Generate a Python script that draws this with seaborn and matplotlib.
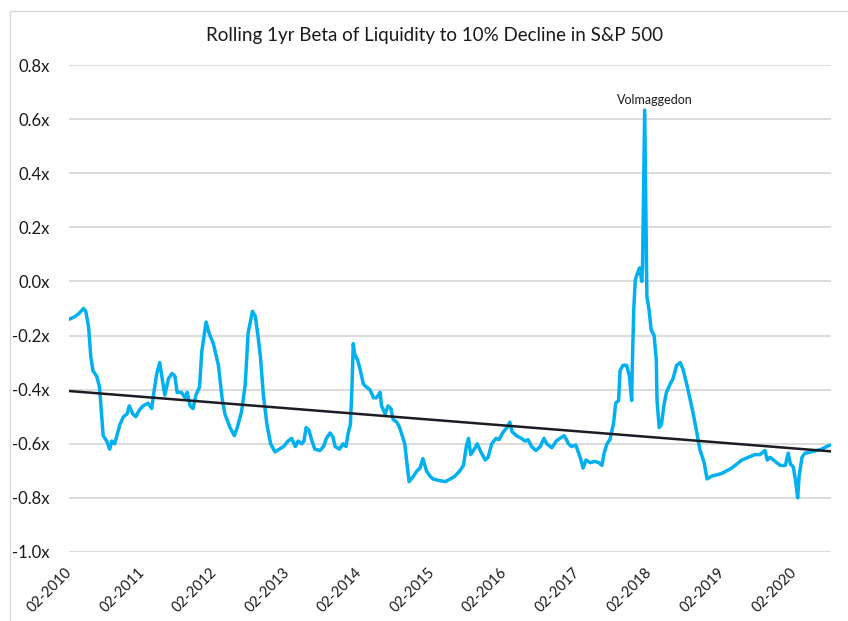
import matplotlib
matplotlib.use("Agg")
import matplotlib.pyplot as plt
from matplotlib.patches import Rectangle
import pandas as pd
import seaborn as sns

# ---------------- data ----------------
years = [
    2010.07, 2010.15, 2010.20, 2010.27, 2010.30, 2010.34, 2010.37, 2010.40, 2010.45, 2010.49,
    2010.51, 2010.54, 2010.59, 2010.63, 2010.66, 2010.70, 2010.74, 2010.77, 2010.82, 2010.87,
    2010.90, 2010.95, 2010.99, 2011.04, 2011.09, 2011.16, 2011.21, 2011.24, 2011.28, 2011.32,
    2011.36, 2011.39, 2011.44, 2011.49, 2011.53, 2011.56, 2011.62, 2011.67, 2011.70, 2011.74,
    2011.78, 2011.82, 2011.87, 2011.90, 2011.96, 2012.00, 2012.06, 2012.13, 2012.18, 2012.22,
    2012.29, 2012.35, 2012.39, 2012.45, 2012.50, 2012.54, 2012.60, 2012.64, 2012.68, 2012.71,
    2012.75, 2012.80, 2012.85, 2012.91, 2012.97, 2013.03, 2013.09, 2013.14, 2013.19, 2013.23,
    2013.28, 2013.31, 2013.34, 2013.38, 2013.42, 2013.46, 2013.53, 2013.58, 2013.62, 2013.67,
    2013.71, 2013.74, 2013.80, 2013.85, 2013.89, 2013.92, 2013.95, 2013.97, 2013.99, 2014.01,
    2014.05, 2014.08, 2014.13, 2014.17, 2014.22, 2014.27, 2014.31, 2014.36, 2014.38, 2014.43,
    2014.47, 2014.51, 2014.54, 2014.59, 2014.63, 2014.70, 2014.76, 2014.82, 2014.87, 2014.91,
    2014.95, 2015.00, 2015.05, 2015.09, 2015.16, 2015.26, 2015.33, 2015.39, 2015.46, 2015.51,
    2015.55, 2015.58, 2015.61, 2015.66, 2015.70, 2015.75, 2015.81, 2015.85, 2015.90, 2015.96,
    2016.00, 2016.05, 2016.11, 2016.15, 2016.18, 2016.24, 2016.31, 2016.36, 2016.40, 2016.45,
    2016.51, 2016.57, 2016.62, 2016.66, 2016.73, 2016.79, 2016.84, 2016.90, 2016.96, 2017.00,
    2017.06, 2017.12, 2017.16, 2017.20, 2017.26, 2017.32, 2017.38, 2017.42, 2017.45, 2017.49,
    2017.53, 2017.58, 2017.61, 2017.65, 2017.67, 2017.71, 2017.76, 2017.80, 2017.83, 2017.84,
    2017.86, 2017.88, 2017.91, 2017.94, 2017.97, 2017.98, 2018.01, 2018.04, 2018.07, 2018.10,
    2018.14, 2018.17, 2018.18, 2018.21, 2018.24, 2018.28, 2018.31, 2018.36, 2018.40, 2018.45,
    2018.50, 2018.54, 2018.59, 2018.64, 2018.68, 2018.73, 2018.77, 2018.83, 2018.87, 2018.93,
    2019.00, 2019.07, 2019.14, 2019.21, 2019.28, 2019.35, 2019.44, 2019.53, 2019.60, 2019.67,
    2019.70, 2019.74, 2019.81, 2019.88, 2019.95, 2019.99, 2020.02, 2020.06, 2020.09, 2020.12,
    2020.14, 2020.18, 2020.22, 2020.31, 2020.38, 2020.45, 2020.52, 2020.57,
]
beta = [
    -0.14, -0.13, -0.12, -0.10, -0.11, -0.17, -0.28, -0.33, -0.35, -0.39,
    -0.46, -0.57, -0.59, -0.62, -0.59, -0.60, -0.56, -0.53, -0.50, -0.49,
    -0.46, -0.49, -0.50, -0.475, -0.46, -0.45, -0.47, -0.41, -0.34, -0.30,
    -0.37, -0.42, -0.36, -0.34, -0.35, -0.41, -0.41, -0.43, -0.41, -0.46,
    -0.47, -0.42, -0.39, -0.26, -0.15, -0.19, -0.23, -0.31, -0.43, -0.49,
    -0.54, -0.57, -0.54, -0.48, -0.38, -0.19, -0.11, -0.13, -0.21, -0.28,
    -0.42, -0.53, -0.60, -0.63, -0.62, -0.61, -0.59, -0.58, -0.61, -0.59,
    -0.60, -0.59, -0.54, -0.55, -0.59, -0.62, -0.625, -0.61, -0.58, -0.56,
    -0.575, -0.61, -0.62, -0.60, -0.61, -0.56, -0.53, -0.41, -0.23, -0.27,
    -0.29, -0.32, -0.38, -0.39, -0.40, -0.43, -0.43, -0.41, -0.46, -0.49,
    -0.46, -0.47, -0.51, -0.52, -0.54, -0.60, -0.74, -0.72, -0.70, -0.69,
    -0.655, -0.70, -0.72, -0.73, -0.735, -0.74, -0.73, -0.72, -0.70, -0.68,
    -0.61, -0.58, -0.64, -0.62, -0.60, -0.63, -0.66, -0.65, -0.60, -0.58,
    -0.585, -0.56, -0.54, -0.52, -0.555, -0.57, -0.58, -0.59, -0.585, -0.61,
    -0.625, -0.61, -0.58, -0.60, -0.615, -0.59, -0.58, -0.57, -0.60, -0.61,
    -0.605, -0.65, -0.69, -0.66, -0.67, -0.665, -0.67, -0.68, -0.635, -0.60,
    -0.585, -0.525, -0.45, -0.44, -0.33, -0.31, -0.31, -0.35, -0.44, -0.30,
    -0.10, 0.005, 0.03, 0.05, 0.0, 0.05, 0.633, -0.055, -0.105, -0.18,
    -0.20, -0.29, -0.44, -0.54, -0.53, -0.45, -0.41, -0.38, -0.36, -0.31,
    -0.30, -0.325, -0.38, -0.44, -0.49, -0.56, -0.62, -0.67, -0.73, -0.72,
    -0.715, -0.71, -0.70, -0.69, -0.675, -0.66, -0.65, -0.64, -0.64, -0.625,
    -0.66, -0.65, -0.665, -0.68, -0.68, -0.635, -0.675, -0.685, -0.735, -0.80,
    -0.72, -0.65, -0.635, -0.63, -0.625, -0.62, -0.61, -0.605,
]
trend_years = [2010.069, 2020.58]
trend_beta = [-0.405, -0.628]

tick_years = [2010.083, 2011.083, 2012.083, 2013.083, 2014.083, 2015.083,
              2016.083, 2017.083, 2018.083, 2019.083, 2020.083]
tick_labels = ["02-2010", "02-2011", "02-2012", "02-2013", "02-2014", "02-2015",
               "02-2016", "02-2017", "02-2018", "02-2019", "02-2020"]
y_ticks = [-1.0, -0.8, -0.6, -0.4, -0.2, 0.0, 0.2, 0.4, 0.6, 0.8]
y_tick_labels = ["-1.0x", "-0.8x", "-0.6x", "-0.4x", "-0.2x", "0.0x", "0.2x", "0.4x", "0.6x", "0.8x"]
title = "Rolling 1yr Beta of Liquidity to 10% Decline in S&P 500"
note_text = "Volmaggedon"
note_pos = (2018.15, 0.669)

# ---------------- plot ----------------
sns.set_theme(style="white")
plt.rcParams["font.family"] = ["Lato", "DejaVu Sans"]

W, H = 848, 621
fig = plt.figure(figsize=(W / 100, H / 100), dpi=100)
ax = fig.add_axes([69 / W, 1 - 552 / H, (831 - 69) / W, (552 - 65) / H])

df = pd.DataFrame({"year": years, "beta": beta})
sns.lineplot(data=df, x="year", y="beta", color="#00B0F0", lw=2.5, ax=ax, zorder=3)
sns.lineplot(x=trend_years, y=trend_beta, color="#1c1c24", lw=1.8, ax=ax, zorder=4)

ax.set_xlim(2010.069, 2020.58)
ax.set_ylim(-1.0, 0.8)
ax.set_yticks(y_ticks)
ax.set_yticklabels(y_tick_labels, fontsize=12, color="#1a1a1a")
ax.set_xticks(tick_years)
ax.set_xticklabels(tick_labels, fontsize=10.5, color="#1a1a1a", rotation=45,
                   ha="right", va="center", rotation_mode="anchor")
ax.tick_params(axis="y", length=0, pad=14)
ax.tick_params(axis="x", length=0, pad=13)
ax.set_xlabel("")
ax.set_ylabel("")
ax.grid(axis="y", color="#D9D9D9", lw=1.3)
ax.grid(axis="x", visible=False)
ax.set_axisbelow(True)
for s in ax.spines.values():
    s.set_visible(False)

ax.text(note_pos[0], note_pos[1], note_text, ha="center", va="center", fontsize=9, color="#1a1a1a")
fig.text(435 / W, 1 - 36 / H, title, ha="center", va="center", fontsize=13.5, color="#1a1a1a")

fig.patches.append(Rectangle((10 / W, -0.1), 1.2, 1 - 11 / H + 0.1, transform=fig.transFigure,
                             fill=False, ec="#D9D9D9", lw=1.0))

fig.savefig("out.png", dpi=100)
